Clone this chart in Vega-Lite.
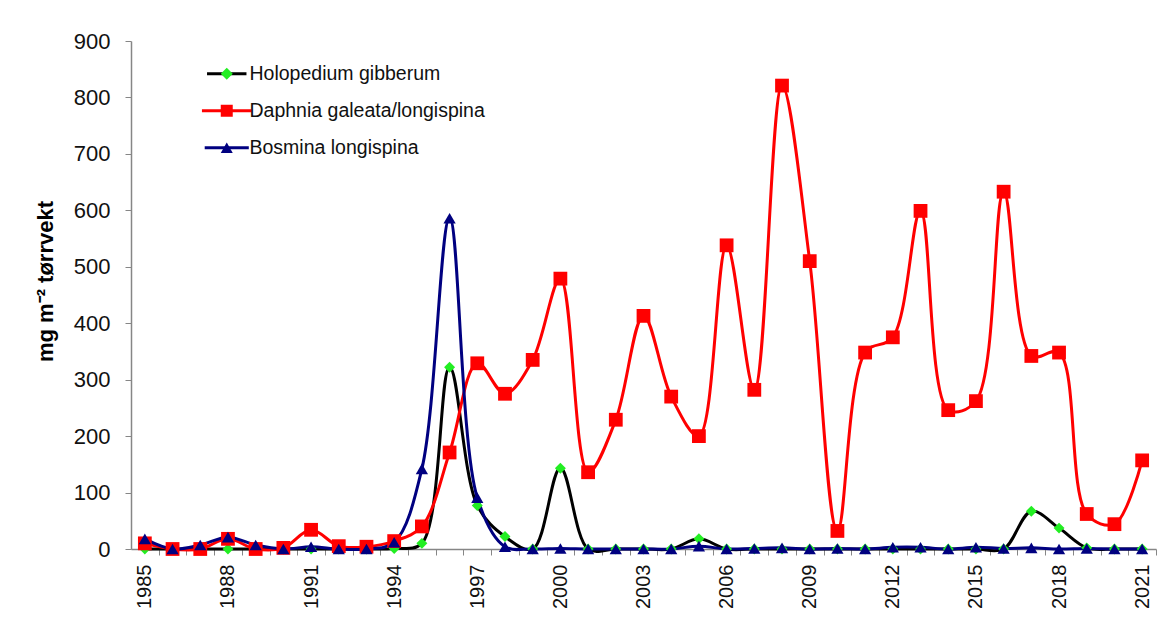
{
  "$schema": "https://vega.github.io/schema/vega-lite/v6.json",
  "autosize": "none",
  "width": 1025,
  "height": 508,
  "padding": {"left": 131, "top": 41, "right": 19, "bottom": 90},
  "background": "white",
  "config": {"view": {"stroke": null}, "font": "Liberation Sans"},
  "data": {"values": [
    {"year":1985,"series":"Holopedium gibberum","value":0},
    {"year":1986,"series":"Holopedium gibberum","value":0},
    {"year":1987,"series":"Holopedium gibberum","value":0},
    {"year":1988,"series":"Holopedium gibberum","value":0},
    {"year":1989,"series":"Holopedium gibberum","value":0},
    {"year":1990,"series":"Holopedium gibberum","value":0},
    {"year":1991,"series":"Holopedium gibberum","value":0},
    {"year":1992,"series":"Holopedium gibberum","value":0},
    {"year":1993,"series":"Holopedium gibberum","value":0},
    {"year":1994,"series":"Holopedium gibberum","value":1},
    {"year":1995,"series":"Holopedium gibberum","value":10},
    {"year":1996,"series":"Holopedium gibberum","value":322},
    {"year":1997,"series":"Holopedium gibberum","value":77},
    {"year":1998,"series":"Holopedium gibberum","value":22},
    {"year":1999,"series":"Holopedium gibberum","value":0},
    {"year":2000,"series":"Holopedium gibberum","value":143},
    {"year":2001,"series":"Holopedium gibberum","value":0},
    {"year":2002,"series":"Holopedium gibberum","value":0},
    {"year":2003,"series":"Holopedium gibberum","value":0},
    {"year":2004,"series":"Holopedium gibberum","value":0},
    {"year":2005,"series":"Holopedium gibberum","value":18},
    {"year":2006,"series":"Holopedium gibberum","value":0},
    {"year":2007,"series":"Holopedium gibberum","value":0},
    {"year":2008,"series":"Holopedium gibberum","value":0},
    {"year":2009,"series":"Holopedium gibberum","value":0},
    {"year":2010,"series":"Holopedium gibberum","value":0},
    {"year":2011,"series":"Holopedium gibberum","value":0},
    {"year":2012,"series":"Holopedium gibberum","value":0},
    {"year":2013,"series":"Holopedium gibberum","value":0},
    {"year":2014,"series":"Holopedium gibberum","value":0},
    {"year":2015,"series":"Holopedium gibberum","value":0},
    {"year":2016,"series":"Holopedium gibberum","value":0},
    {"year":2017,"series":"Holopedium gibberum","value":67},
    {"year":2018,"series":"Holopedium gibberum","value":37},
    {"year":2019,"series":"Holopedium gibberum","value":2},
    {"year":2020,"series":"Holopedium gibberum","value":0},
    {"year":2021,"series":"Holopedium gibberum","value":0},
    {"year":1985,"series":"Daphnia galeata/longispina","value":10},
    {"year":1986,"series":"Daphnia galeata/longispina","value":0},
    {"year":1987,"series":"Daphnia galeata/longispina","value":0},
    {"year":1988,"series":"Daphnia galeata/longispina","value":18},
    {"year":1989,"series":"Daphnia galeata/longispina","value":0},
    {"year":1990,"series":"Daphnia galeata/longispina","value":2},
    {"year":1991,"series":"Daphnia galeata/longispina","value":34},
    {"year":1992,"series":"Daphnia galeata/longispina","value":5},
    {"year":1993,"series":"Daphnia galeata/longispina","value":4},
    {"year":1994,"series":"Daphnia galeata/longispina","value":14},
    {"year":1995,"series":"Daphnia galeata/longispina","value":40},
    {"year":1996,"series":"Daphnia galeata/longispina","value":171},
    {"year":1997,"series":"Daphnia galeata/longispina","value":329},
    {"year":1998,"series":"Daphnia galeata/longispina","value":275},
    {"year":1999,"series":"Daphnia galeata/longispina","value":335},
    {"year":2000,"series":"Daphnia galeata/longispina","value":479},
    {"year":2001,"series":"Daphnia galeata/longispina","value":136},
    {"year":2002,"series":"Daphnia galeata/longispina","value":229},
    {"year":2003,"series":"Daphnia galeata/longispina","value":413},
    {"year":2004,"series":"Daphnia galeata/longispina","value":270},
    {"year":2005,"series":"Daphnia galeata/longispina","value":200},
    {"year":2006,"series":"Daphnia galeata/longispina","value":538},
    {"year":2007,"series":"Daphnia galeata/longispina","value":282},
    {"year":2008,"series":"Daphnia galeata/longispina","value":821},
    {"year":2009,"series":"Daphnia galeata/longispina","value":510},
    {"year":2010,"series":"Daphnia galeata/longispina","value":32},
    {"year":2011,"series":"Daphnia galeata/longispina","value":348},
    {"year":2012,"series":"Daphnia galeata/longispina","value":375},
    {"year":2013,"series":"Daphnia galeata/longispina","value":599},
    {"year":2014,"series":"Daphnia galeata/longispina","value":246},
    {"year":2015,"series":"Daphnia galeata/longispina","value":262},
    {"year":2016,"series":"Daphnia galeata/longispina","value":633},
    {"year":2017,"series":"Daphnia galeata/longispina","value":342},
    {"year":2018,"series":"Daphnia galeata/longispina","value":348},
    {"year":2019,"series":"Daphnia galeata/longispina","value":62},
    {"year":2020,"series":"Daphnia galeata/longispina","value":44},
    {"year":2021,"series":"Daphnia galeata/longispina","value":157},
    {"year":1985,"series":"Bosmina longispina","value":18},
    {"year":1986,"series":"Bosmina longispina","value":0},
    {"year":1987,"series":"Bosmina longispina","value":7},
    {"year":1988,"series":"Bosmina longispina","value":21},
    {"year":1989,"series":"Bosmina longispina","value":7},
    {"year":1990,"series":"Bosmina longispina","value":0},
    {"year":1991,"series":"Bosmina longispina","value":4},
    {"year":1992,"series":"Bosmina longispina","value":0},
    {"year":1993,"series":"Bosmina longispina","value":0},
    {"year":1994,"series":"Bosmina longispina","value":12},
    {"year":1995,"series":"Bosmina longispina","value":142},
    {"year":1996,"series":"Bosmina longispina","value":586},
    {"year":1997,"series":"Bosmina longispina","value":91},
    {"year":1998,"series":"Bosmina longispina","value":4},
    {"year":1999,"series":"Bosmina longispina","value":0},
    {"year":2000,"series":"Bosmina longispina","value":1},
    {"year":2001,"series":"Bosmina longispina","value":0},
    {"year":2002,"series":"Bosmina longispina","value":0},
    {"year":2003,"series":"Bosmina longispina","value":0},
    {"year":2004,"series":"Bosmina longispina","value":0},
    {"year":2005,"series":"Bosmina longispina","value":5},
    {"year":2006,"series":"Bosmina longispina","value":0},
    {"year":2007,"series":"Bosmina longispina","value":1},
    {"year":2008,"series":"Bosmina longispina","value":2},
    {"year":2009,"series":"Bosmina longispina","value":0},
    {"year":2010,"series":"Bosmina longispina","value":1},
    {"year":2011,"series":"Bosmina longispina","value":0},
    {"year":2012,"series":"Bosmina longispina","value":3},
    {"year":2013,"series":"Bosmina longispina","value":3},
    {"year":2014,"series":"Bosmina longispina","value":0},
    {"year":2015,"series":"Bosmina longispina","value":3},
    {"year":2016,"series":"Bosmina longispina","value":1},
    {"year":2017,"series":"Bosmina longispina","value":2},
    {"year":2018,"series":"Bosmina longispina","value":0},
    {"year":2019,"series":"Bosmina longispina","value":1},
    {"year":2020,"series":"Bosmina longispina","value":0},
    {"year":2021,"series":"Bosmina longispina","value":0}
  ]},
  "encoding": {
    "x": {
      "field": "year", "type": "quantitative",
      "scale": {"domain": [1984.5, 2021.5], "nice": false, "zero": false},
      "axis": {
        "title": null,
        "values": [1985,1986,1987,1988,1989,1990,1991,1992,1993,1994,1995,1996,1997,1998,1999,2000,2001,2002,2003,2004,2005,2006,2007,2008,2009,2010,2011,2012,2013,2014,2015,2016,2017,2018,2019,2020,2021],
        "format": "d",
        "labelExpr": "(datum.value - 1985) % 3 === 0 ? datum.label : ''",
        "labelAngle": -90,
        "labelOverlap": false,
        "labelFontSize": 20,
        "labelColor": "#111111",
        "labelPadding": 9,
        "tickOffset": 13.85,
        "labelOffset": -13.85,
        "tickSize": 6,
        "tickColor": "#868686",
        "domainColor": "#868686",
        "tickWidth": 1,
        "domainWidth": 1.5,
        "grid": false
      }
    },
    "y": {
      "field": "value", "type": "quantitative",
      "scale": {"domain": [0, 900], "nice": false},
      "axis": {
        "title": "mg m⁻² tørrvekt",
        "titleFontSize": 22,
        "titleFontWeight": "bold",
        "titleColor": "#000000",
        "titlePadding": 16,
        "titleY": 240,
        "values": [0,100,200,300,400,500,600,700,800,900],
        "labelFontSize": 22,
        "labelColor": "#111111",
        "labelPadding": 15,
        "tickSize": 6,
        "tickColor": "#868686",
        "domainColor": "#868686",
        "domainWidth": 1.5,
        "grid": false
      }
    }
  },
  "layer": [
    {
      "mark": {"type": "line", "interpolate": "catmull-rom", "strokeWidth": 3},
      "encoding": {
        "stroke": {
          "field": "series", "type": "nominal",
          "scale": {"domain": ["Holopedium gibberum","Daphnia galeata/longispina","Bosmina longispina"], "range": ["#000000","#FF0000","#000080"]},
          "legend": {
            "orient": "none", "legendX": 70, "legendY": 23, "title": null, "padding": 0,
            "symbolType": "M-3.6,0H3.6", "symbolSize": 144, "symbolStrokeWidth": 3,
            "symbolOffset": 16, "labelOffset": 13, "labelLimit": 500,
            "labelFontSize": 19.5, "labelColor": "#111111", "rowPadding": 16
          }
        }
      }
    },
    {
      "mark": {"type": "point", "filled": true, "opacity": 1, "strokeWidth": 0},
      "encoding": {
        "fill": {
          "field": "series", "type": "nominal", "sort": null,
          "scale": {"range": ["#22EE22","#FF0000","#000080"]},
          "legend": {
            "orient": "none", "legendX": 70, "legendY": 23, "title": null, "padding": 0,
            "symbolSize": 144, "symbolStrokeWidth": 0, "symbolOpacity": 1,
            "symbolOffset": 16, "labelOffset": 13, "labelOpacity": 0, "labelLimit": 500,
            "labelFontSize": 19.5, "rowPadding": 16
          }
        },
        "shape": {
          "field": "series", "type": "nominal", "sort": null,
          "scale": {"range": ["diamond","square","triangle-up"]},
          "legend": {
            "orient": "none", "legendX": 70, "legendY": 23, "title": null, "padding": 0,
            "symbolSize": 144, "symbolStrokeWidth": 0, "symbolOpacity": 1,
            "symbolOffset": 16, "labelOffset": 13, "labelOpacity": 0, "labelLimit": 500,
            "labelFontSize": 19.5, "rowPadding": 16
          }
        },
        "size": {
          "field": "series", "type": "nominal",
          "scale": {"type": "ordinal", "domain": ["Holopedium gibberum","Daphnia galeata/longispina","Bosmina longispina"], "range": [120, 190, 150]},
          "legend": null
        }
      }
    }
  ]
}
